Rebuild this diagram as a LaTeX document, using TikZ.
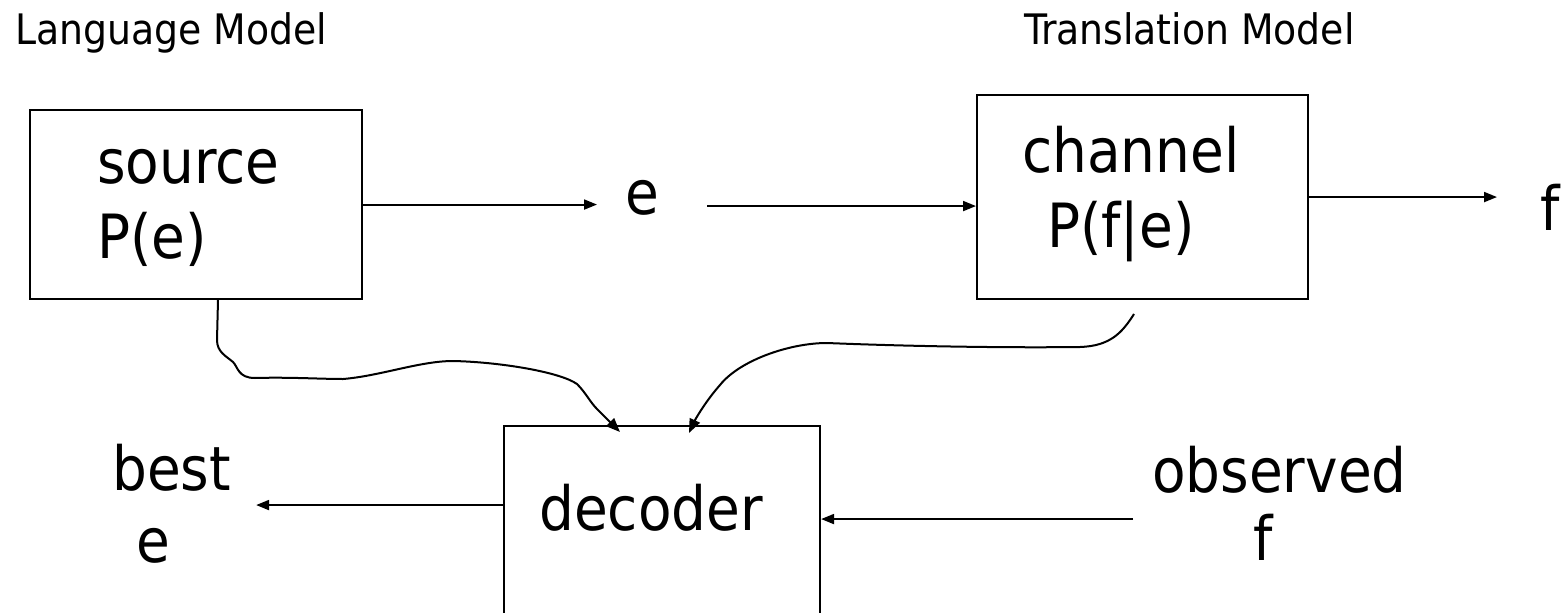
\documentclass[tikz,border=0pt]{standalone}
\usepackage{fontspec}
\setmainfont{DejaVu Sans Condensed}
\usetikzlibrary{arrows.meta}
\begin{document}
\begin{tikzpicture}[x=1pt,y=-1pt,
  box/.style={draw, line width=2.1pt, inner sep=0pt, anchor=north west},
  big/.style={font=\fontsize{61}{61}\selectfont, inner sep=0pt, anchor=base west},
  small/.style={font=\fontsize{42}{42}\selectfont, inner sep=0pt},
  arr/.style={line width=2pt, -{Triangle[length=13pt,width=10pt]}},
  wire/.style={line width=2pt, -{Triangle[length=14pt,width=11pt]}}
]
\useasboundingbox (0,0) rectangle (1561,613);
\clip (0,0) rectangle (1561,613);

% boxes
\node[box, minimum width=332pt, minimum height=189pt] (src) at (29,109) {};
\node[box, minimum width=331pt, minimum height=204pt] (chn) at (976,94) {};
\node[box, minimum width=316pt, minimum height=230pt] (dec) at (503,425) {};

% texts
\node[small, anchor=base west] (lm) at (15,44) {Language Model};
\node[small, anchor=base east] (tm) at (1355,44) {Translation Model};
\node[big] (srcA) at (97,183) {source};
\node[big] (srcB) at (97,258) {P(e)};
\node[big] (chA) at (1022,172) {channel};
\node[big] (chB) at (1047,247) {P(f|e)};
\node[big] (e1) at (625,214) {e};
\node[big] (f1) at (1540,230) {f};
\node[big] (decT) at (539,530) {decoder};
\node[big] (bestA) at (112,490) {best};
\node[big] (bestB) at (136,562) {e};
\node[big] (obsA) at (1152,492) {observed};
\node[big] (obsB) at (1253,560) {f};

% straight arrows
\draw[arr, shorten >=28pt] (src.east) -- (src.east -| e1.west);
\draw[arr, shorten <=48pt] ([yshift=-9pt]chn.west -| e1.east) -- ([yshift=-9pt]chn.west);
\draw[arr, shorten >=43pt] (chn.east) -- (chn.east -| f1.west);
\draw[arr, shorten >=25pt] ([yshift=36pt]dec.west) -- ([yshift=36pt]dec.west -| bestA.east);
\draw[arr, shorten <=19pt] ([yshift=22pt]dec.east -| obsA.west) -- ([yshift=22pt]dec.east);

% curved connectors
\draw[wire] ([xshift=189pt]src.south west) -- (217,340)
  .. controls (217,352) and (226,356) .. (233,362)
  .. controls (238,367) and (238,378) .. (255,378)
  .. controls (290,377) and (320,379) .. (343,379)
  .. controls (380,376) and (420,361) .. (453,361)
  .. controls (500,362) and (560,372) .. (577,384)
  .. controls (586,393) and (590,402) .. (597,409)
  -- ([xshift=117pt,yshift=-7pt]dec.north west);

\coordinate (chTail) at (1134,314);
\draw[wire] (chTail)
  .. controls (1122,333) and (1110,346) .. (1080,347)
  .. controls (1000,348) and (900,346) .. (827,343)
  .. controls (790,343) and (740,360) .. (720,385)
  .. controls (705,402) and (695,420) .. ([xshift=186pt,yshift=-8pt]dec.north west);
\end{tikzpicture}
\end{document}
